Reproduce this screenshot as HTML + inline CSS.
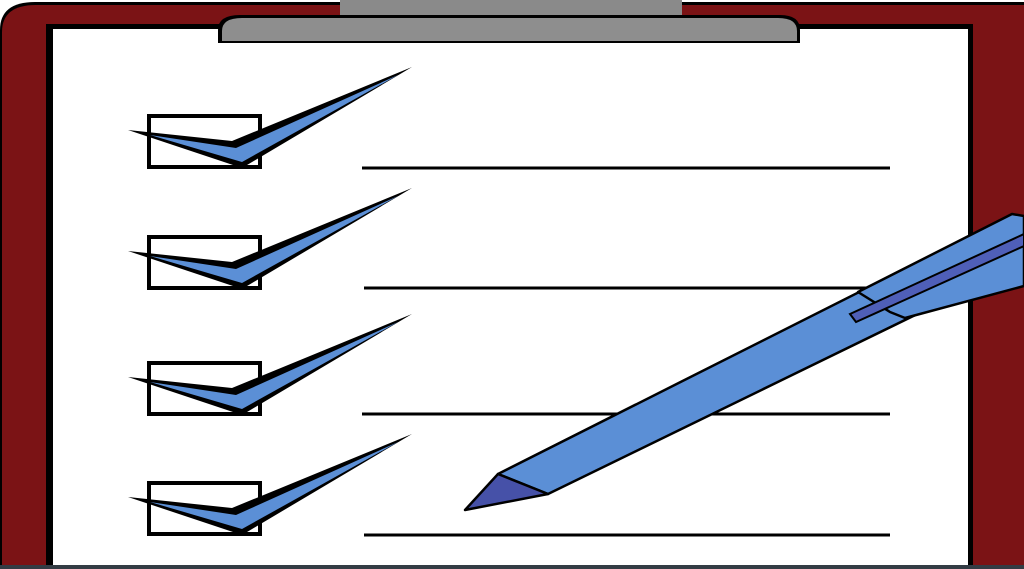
<!DOCTYPE html>
<html><head><style>html,body{margin:0;padding:0;background:#fff}svg{display:block}</style></head>
<body>
<svg width="1024" height="569" viewBox="0 0 1024 569" xmlns="http://www.w3.org/2000/svg">
<rect width="1024" height="569" fill="#fff"/>
<path d="M0 569 V30 Q0 2 35 2 H1024 V569 Z" fill="#000"/>
<path d="M2 569 V32 Q2 5 36 5 H1024 V569 Z" fill="#7b1315"/>
<rect x="46" y="24" width="927" height="560" fill="#000"/>
<rect x="53" y="29" width="915" height="560" fill="#fff"/>
<rect x="340" y="0" width="342" height="18" fill="#8a8a8a"/>
<path d="M218 43 V30 Q218 15 240 15 H780 Q800 15 800 30 V43 Z" fill="#000"/>
<path d="M222 41 V31 Q222 18 242 18 H778 Q797 18 797 31 V41 Z" fill="#8e8e8e"/>
<g stroke="#000" stroke-width="3">
<line x1="362" y1="168" x2="890" y2="168"/>
<line x1="364" y1="288" x2="890" y2="288"/>
<line x1="362" y1="414" x2="890" y2="414"/>
<line x1="364" y1="535" x2="890" y2="535"/>
</g>
<defs>
<g id="ck">
<rect x="149" y="116" width="111" height="51" fill="none" stroke="#000" stroke-width="4"/>
<polygon points="128,130 232,141 412,67 242,168" fill="#000"/>
<polygon points="150,135 236,148 398,75 242,162" fill="#5b8fd6"/>
</g>
</defs>
<use href="#ck"/>
<use href="#ck" transform="translate(0,121)"/>
<use href="#ck" transform="translate(0,247)"/>
<use href="#ck" transform="translate(0,367)"/>
<polygon points="498,474 1010,216 1024,224 1024,262 548,494" fill="#5b8fd6" stroke="#000" stroke-width="2.5" stroke-linejoin="round"/>
<polygon points="858,292 1012,214 1024,216 1024,286 905,318 890,312" fill="#5b8fd6" stroke="#000" stroke-width="2.5" stroke-linejoin="round"/>
<polygon points="850,314 1024,234 1024,246 856,322" fill="#4f5fb8" stroke="#000" stroke-width="2"/>
<polygon points="465,510 498,474 548,494" fill="#4651a8" stroke="#000" stroke-width="2.5" stroke-linejoin="round"/>
<rect x="0" y="565" width="1024" height="4" fill="#333c44"/>
</svg>
</body></html>
